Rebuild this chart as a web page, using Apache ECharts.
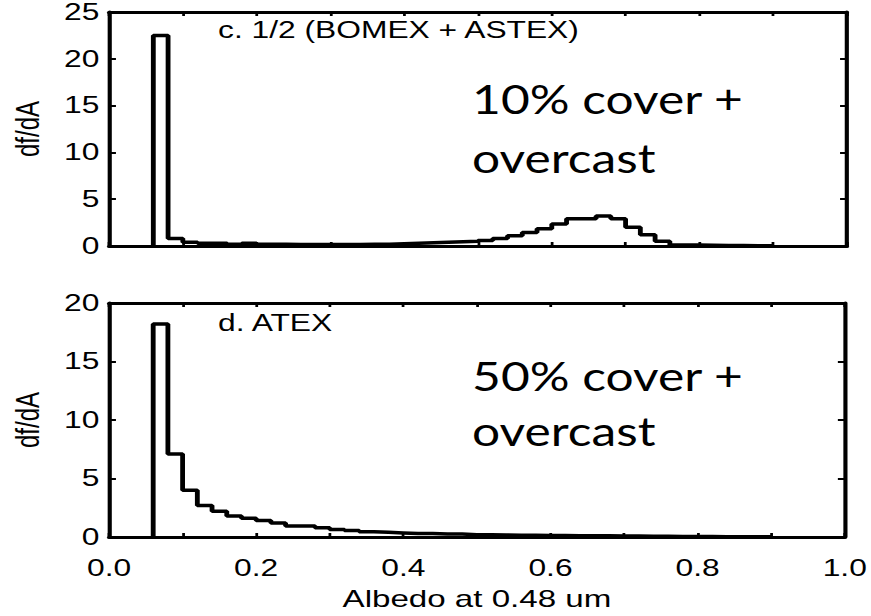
<!DOCTYPE html>
<html><head><meta charset="utf-8">
<script src="https://cdn.jsdelivr.net/npm/echarts@6/dist/echarts.min.js"></script>
<style>
html,body{margin:0;padding:0;background:#fff;overflow:hidden}
#wrap{width:871px;height:616px;overflow:hidden;position:relative}
#chart{width:631px;height:616px;transform:scaleX(1.3803);transform-origin:0 0}
</style></head><body><div id="wrap"><div id="chart"></div></div>
<script>
// Histogram bins: left edge of first bin and bin width (albedo)
const binStart = 0.06;
const binWidth = 0.02;
// c. 1/2 (BOMEX + ASTEX)
const valuesC = [22.5, 0.8, 0.4, 0.3, 0.3, 0.2, 0.3, 0.2, 0.2, 0.15,
  0.15, 0.15, 0.15, 0.15, 0.2, 0.2, 0.25, 0.3, 0.35, 0.4,
  0.45, 0.5, 0.6, 0.8, 1.1, 1.45, 1.85, 2.35, 2.9, 2.9,
  3.2, 2.9, 2.0, 1.2, 0.5, 0.12, 0.1, 0.08, 0.06, 0.05,
  0.03, 0.02];
// d. ATEX
const valuesD = [18.2, 7.1, 4.0, 2.7, 2.2, 1.8, 1.6, 1.4, 1.2, 0.95,
  0.95, 0.8, 0.65, 0.55, 0.45, 0.4, 0.35, 0.3, 0.3, 0.25,
  0.25, 0.2, 0.2, 0.18, 0.15, 0.15, 0.12, 0.12, 0.1, 0.1,
  0.1, 0.08, 0.08, 0.06, 0.06, 0.05, 0.05, 0.04, 0.03, 0.03,
  0.02, 0.02];
const panelTitles = ['c. 1/2 (BOMEX + ASTEX)', 'd. ATEX'];
const noteC = ['10% cover +', 'overcast'];
const noteD = ['50% cover +', 'overcast'];
const yMaxC = 25, yMaxD = 20, yStep = 5;
const xMin = 0, xMax = 1, xStep = 0.2;
const xName = 'Albedo at 0.48 um';
const yName = 'df/dA';

function stepPoints(vals) {
  const pts = [[binStart, 0]];
  vals.forEach((v, i) => pts.push([+(binStart + i * binWidth).toFixed(3), v]));
  pts.push([+(binStart + vals.length * binWidth).toFixed(3), 0]);
  return pts;
}

const FONT = 'Liberation Sans, Arial, Helvetica, sans-serif';
const lineW = 3;
const axisLine = { show: true, onZero: false, lineStyle: { color: '#000', width: lineW } };

function xAx(grid, pos, labels) {
  return {
    type: 'value', gridIndex: grid, position: pos, min: xMin, max: xMax, interval: xStep,
    axisLine: axisLine,
    axisTick: { show: true, inside: true, length: 4, lineStyle: { color: '#000', width: 2 } },
    minorTick: { show: true, splitNumber: 2, length: 4, lineStyle: { color: '#000', width: 2 } },
    splitLine: { show: false },
    axisLabel: { show: labels, margin: 20, fontSize: 23, fontFamily: FONT, color: '#000',
      formatter: v => v.toFixed(1) },
    name: labels ? xName : '', nameLocation: 'middle', nameGap: 50,
    nameTextStyle: { fontSize: 24, fontFamily: FONT, color: '#000' }
  };
}
function yAx(grid, pos, max, labels) {
  return {
    type: 'value', gridIndex: grid, position: pos, min: 0, max: max, interval: yStep,
    axisLine: axisLine,
    axisTick: { show: true, inside: true, length: 5, lineStyle: { color: '#000', width: 2 } },
    splitLine: { show: false },
    axisLabel: { show: labels, margin: 7, fontSize: 23, fontFamily: FONT, color: '#000' },
    name: labels ? yName : '', nameLocation: 'middle', nameGap: 47, nameRotate: 90,
    nameTextStyle: { fontSize: 24, fontFamily: FONT, color: '#000' }
  };
}

const chart = echarts.init(document.getElementById('chart'), null, { renderer: 'svg' });
const noteFont = { fontSize: 40, fontFamily: 'Lato, Noto Sans, sans-serif', fill: '#000' };
function note(text, y) {
  return { type: 'text', x: 342, y: y, scaleX: 0.9, style: Object.assign({ text: text, verticalAlign: 'middle' }, noteFont) };
}
chart.setOption({
  animation: false,
  backgroundColor: '#fff',
  grid: [
    { left: 76, right: 17.4, top: 12, height: 234 },
    { left: 76, right: 17.4, top: 303, height: 234 }
  ],
  xAxis: [xAx(0, 'bottom', false), xAx(0, 'top', false), xAx(1, 'bottom', true), xAx(1, 'top', false)],
  yAxis: [yAx(0, 'left', yMaxC, true), yAx(0, 'right', yMaxC, false), yAx(1, 'left', yMaxD, true), yAx(1, 'right', yMaxD, false)],
  series: [
    { type: 'line', xAxisIndex: 0, yAxisIndex: 0, step: 'end', data: stepPoints(valuesC),
      showSymbol: false, symbol: 'none', lineStyle: { color: '#000', width: 3.5 }, z: 1 },
    { type: 'line', xAxisIndex: 2, yAxisIndex: 2, step: 'end', data: stepPoints(valuesD),
      showSymbol: false, symbol: 'none', lineStyle: { color: '#000', width: 3.5 }, z: 1 }
  ],
  graphic: [
    { type: 'text', x: 158, y: 30, style: { text: panelTitles[0], fontSize: 23, fontFamily: FONT, fill: '#000', verticalAlign: 'middle' } },
    { type: 'text', x: 158, y: 323, style: { text: panelTitles[1], fontSize: 23, fontFamily: FONT, fill: '#000', verticalAlign: 'middle' } },
    note(noteC[0], 98), note(noteC[1], 157),
    note(noteD[0], 375), note(noteD[1], 430)
  ]
});
</script></body></html>
